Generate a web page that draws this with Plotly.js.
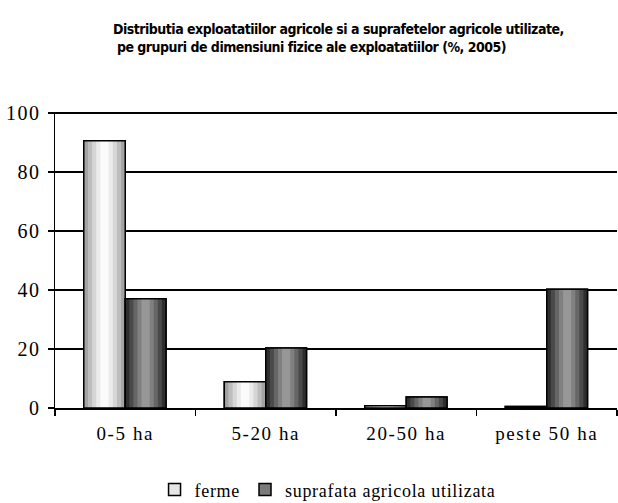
<!DOCTYPE html>
<html><head><meta charset="utf-8">
<script src="https://cdn.plot.ly/plotly-3.0.1.min.js"></script>
<style>html,body{margin:0;padding:0;background:#fff}#chart{width:618px;height:503px}
.xtick text{letter-spacing:1.6px}
.ytick text{letter-spacing:1.5px}
.legendtext{letter-spacing:0.7px}
.annotation-text{letter-spacing:-0.5px}
</style>
</head><body><div id="chart"></div>
<script>
const categories = ["0-5 ha", "5-20 ha", "20-50 ha", "peste 50 ha"];
const ferme = [90.6, 8.9, 0.8, 0.5];
const suprafata = [37.0, 20.3, 3.7, 40.3];
const seriesNames = ["ferme", "suprafata agricola utilizata"];
const yTicks = [0, 20, 40, 60, 80, 100];
const titleLines = ["Distributia exploatatiilor agricole si a suprafetelor agricole utilizate,",
                    "\u00a0pe grupuri de dimensiuni fizice ale exploatatiilor (%, 2005)"];

// cylinder-like shading layers (style only)
const fermeShades = ["#a3a3a3", "#bdbdbd", "#d6d6d6", "#ebebeb", "#fbfbfb"];
const suprShades = ["#2e2e2e", "#4a4a4a", "#666666", "#808080", "#979797"];

function series(vals, name, offset, width, base, shades) {
  const out = [];
  out.push({type:'bar', x:categories, y:vals, name:name, offset:offset, width:width,
    marker:{color:base, line:{color:'#000', width:1.5}}, showlegend:true, hoverinfo:'skip'});
  const n = shades.length;
  for (let i = 0; i < n; i++) {
    const f = 1 - i / n;
    const w = width * f;
    const o = offset + (width - w) / 2;
    out.push({type:'bar', x:categories, y:vals, offset:o, width:w,
      marker:{color:shades[i], line:{width:0}}, showlegend:false, hoverinfo:'skip'});
  }
  out.push({type:'bar', x:categories, y:vals, offset:offset, width:width,
    marker:{color:'rgba(0,0,0,0)', line:{color:'#000', width:1.5}}, showlegend:false, hoverinfo:'skip'});
  return out;
}

const data = [].concat(
  series(ferme, seriesNames[0], -0.295, 0.295, '#e6e6e6', fermeShades),
  series(suprafata, seriesNames[1], 0.0, 0.29, '#7a7a7a', suprShades)
);

const layout = {
  width:618, height:503,
  margin:{l:55, r:1, t:112, b:95},
  paper_bgcolor:'#fff', plot_bgcolor:'#fff',
  barmode:'overlay',
  annotations:[{text:'<b>' + titleLines[0] + '</b><br><b>' + titleLines[1] + '</b>',
    xref:'paper', yref:'paper', x:0.504, y:1.25, xanchor:'center', yanchor:'middle',
    align:'left', showarrow:false,
    font:{family:'DejaVu Sans Condensed, DejaVu Sans', size:14, color:'#000'}}],
  xaxis:{type:'category', tickson:'boundaries', ticks:'outside', ticklen:6, tickwidth:1.5, tickcolor:'#000',
    showline:true, linecolor:'#000', linewidth:1.5, showgrid:false, zeroline:false,
    tickfont:{family:'Liberation Serif', size:19, color:'#000'}, ticklabelstandoff:8, fixedrange:true},
  yaxis:{range:[0,100.35], tickvals:yTicks, ticks:'outside', ticklen:6, tickwidth:1.5, tickcolor:'#000',
    showline:true, linecolor:'#000', linewidth:1.5, showgrid:true, gridcolor:'#000', gridwidth:1.5,
    zeroline:false, tickfont:{family:'Liberation Serif', size:20, color:'#000'}, ticklabelstandoff:3, fixedrange:true},
  showlegend:true,
  legend:{orientation:'h', xref:'container', yref:'container', x:0.53, xanchor:'center', y:0.026, yanchor:'middle',
    font:{family:'Liberation Serif', size:18, color:'#000'}, itemwidth:30, tracegroupgap:0}
};
Plotly.newPlot('chart', data, layout, {displayModeBar:false, staticPlot:true});
</script></body></html>
